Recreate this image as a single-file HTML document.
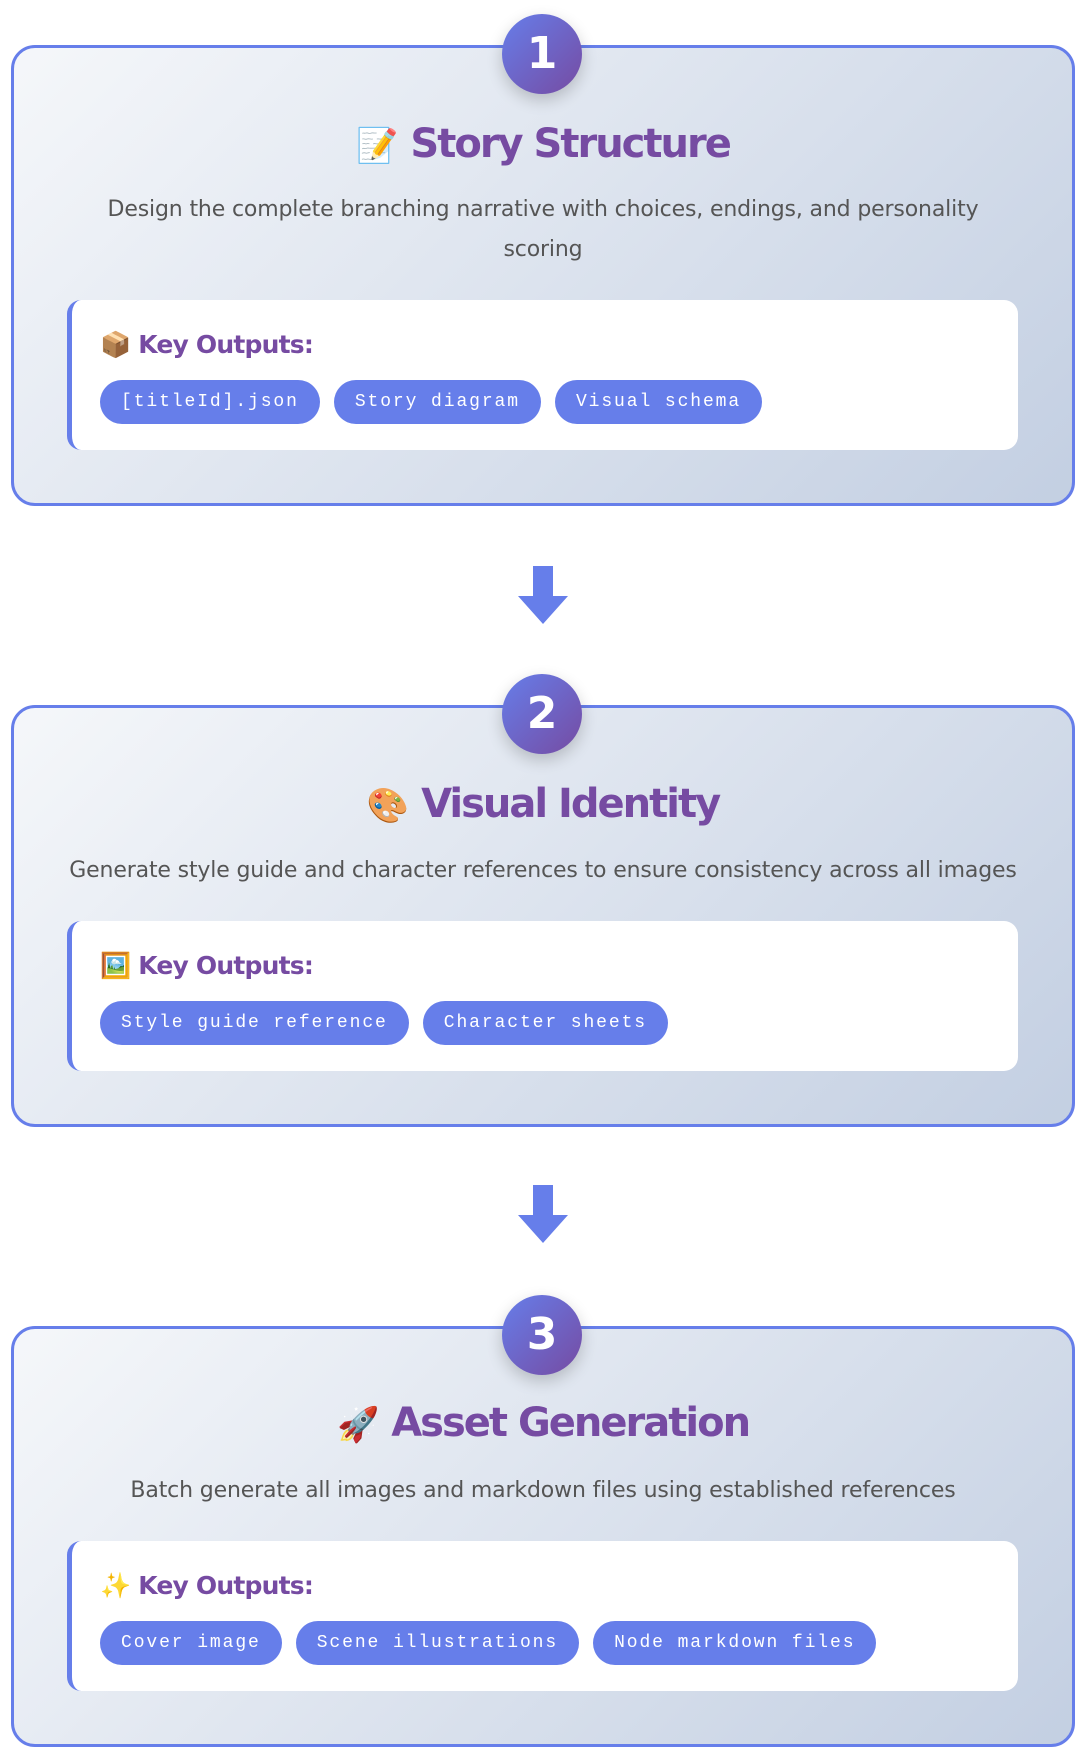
<!DOCTYPE html>
<html><head><meta charset="utf-8"><style>
body{margin:0;width:1086px;height:1764px;background:#fff;position:relative;font-family:"Liberation Sans","DejaVu Sans",sans-serif;overflow:hidden}
.card{position:absolute;left:11px;width:1064px;border:3px solid #667eea;border-radius:24px;background:linear-gradient(135deg,#f5f7fa 0%,#c3cfe2 100%);box-sizing:border-box}
.badge{position:absolute;left:488px;top:-34px;width:80px;height:80px;border-radius:50%;background:linear-gradient(135deg,#667eea,#764ba2);color:#fff;font-weight:bold;font-size:44px;line-height:80px;text-align:center;box-shadow:0 6px 16px rgba(0,0,0,.2);font-family:"DejaVu Sans",sans-serif}
.title{position:absolute;left:0;right:0;text-align:center;font-weight:bold;font-size:40px;color:#764ba2;line-height:50px;font-family:"DejaVu Sans",sans-serif;letter-spacing:-2px}
.title .e{font-size:34px;letter-spacing:0}
.desc{position:absolute;left:60px;right:60px;text-align:center;font-size:22px;color:#555;line-height:40px;font-family:"DejaVu Sans",sans-serif;letter-spacing:-0.15px}
.inner{position:absolute;left:53px;width:951px;height:150px;background:#fff;border-radius:14px;border-left:5px solid #667eea;box-sizing:border-box}
.key{position:absolute;left:28px;top:30px;font-weight:bold;font-size:25px;color:#764ba2;font-family:"DejaVu Sans",sans-serif;letter-spacing:-0.8px}
.tags{position:absolute;left:28px;top:80px;display:flex;gap:14px}
.tag{height:44px;line-height:44px;padding:0 21px;background:#667eea;color:#fff;border-radius:22px;font-family:"Liberation Mono",monospace;font-size:18px;letter-spacing:1.9px}
.arrow{position:absolute;left:518px;width:50px;height:58px}
</style></head><body>

<div class="card" style="top:45px;height:461px">
  <div class="badge">1</div>
  <div class="title" style="top:71px"><span class="e">📝</span> Story Structure</div>
  <div class="desc" style="top:142px;left:90px;right:90px">Design the complete branching narrative with choices, endings, and personality scoring</div>
  <div class="inner" style="top:252px"><div class="key">📦 Key Outputs:</div>
    <div class="tags"><div class="tag">[titleId].json</div><div class="tag">Story diagram</div><div class="tag">Visual schema</div></div></div>
</div>

<svg class="arrow" style="top:566px" viewBox="0 0 50 58"><polygon points="15,0 35,0 35,30 50,30 25,58 0,30 15,30" fill="#667eea"/></svg>

<div class="card" style="top:705px;height:422px">
  <div class="badge">2</div>
  <div class="title" style="top:71px"><span class="e">🎨</span> Visual Identity</div>
  <div class="desc" style="top:143px;left:10px;right:10px">Generate style guide and character references to ensure consistency across all images</div>
  <div class="inner" style="top:213px"><div class="key">🖼️ Key Outputs:</div>
    <div class="tags"><div class="tag">Style guide reference</div><div class="tag">Character sheets</div></div></div>
</div>

<svg class="arrow" style="top:1185px" viewBox="0 0 50 58"><polygon points="15,0 35,0 35,30 50,30 25,58 0,30 15,30" fill="#667eea"/></svg>

<div class="card" style="top:1326px;height:421px">
  <div class="badge">3</div>
  <div class="title" style="top:69px"><span class="e">🚀</span> Asset Generation</div>
  <div class="desc" style="top:142px">Batch generate all images and markdown files using established references</div>
  <div class="inner" style="top:212px"><div class="key">✨ Key Outputs:</div>
    <div class="tags"><div class="tag">Cover image</div><div class="tag">Scene illustrations</div><div class="tag">Node markdown files</div></div></div>
</div>

</body></html>
